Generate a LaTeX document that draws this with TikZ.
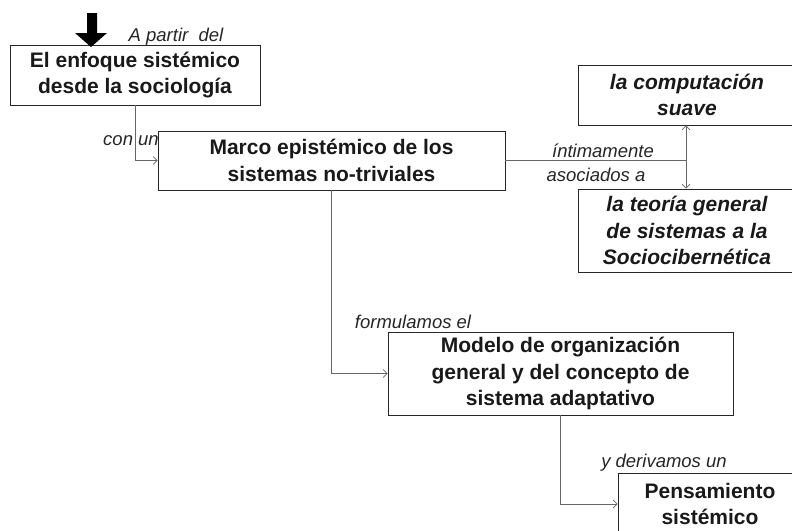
\documentclass[tikz,border=0pt]{standalone}
\usepackage{fontspec}
\setmainfont{Liberation Sans}
\usetikzlibrary{arrows.meta}
\begin{document}
\begin{tikzpicture}[x=1pt,y=-1pt,
  box/.style={draw=black!85,line width=0.9pt,inner sep=0pt,align=center,
    font=\bfseries\fontsize{21}{26.5}\selectfont,text=black!90},
  ibox/.style={box,font=\bfseries\itshape\fontsize{21}{26.5}\selectfont},
  lbl/.style={inner sep=0pt,font=\itshape\fontsize{18.5}{22}\selectfont,text=black!85},
  conn/.style={draw=black!60,line width=0.8pt},
  tipp/.style={-{Straight Barb[length=4pt,width=8pt,line width=0.7pt]}}]
\useasboundingbox (0,0) rectangle (792,530);
\clip (0,0) rectangle (792,530);
\fill[white] (0,0) rectangle (792,530);
% boxes
\node[box,minimum width=250pt,minimum height=60pt] (b1) at (135,75) {El enfoque sistémico\\desde la sociología};
\node[box,minimum width=347pt,minimum height=59pt] (b2) at (331.5,160.5) {Marco epistémico de los\\sistemas no-triviales};
\node[ibox,minimum width=218pt,minimum height=60pt] (b3) at (687,95) {la computación\\suave};
\node[ibox,minimum width=218pt,minimum height=83pt] (b4) at (687,230.5) {la teoría general\\de sistemas a la\\Sociocibernética};
\node[box,minimum width=345pt,minimum height=83pt] (b5) at (560.5,373.5) {Modelo de organización\\general y del concepto de\\sistema adaptativo};
\node[box,minimum width=184pt,minimum height=62pt] (b6) at (710,504) {Pensamiento\\sistémico};
% big arrow
\coordinate (tiptop) at (91,47);
\fill[black] (87,13) -- (97,13) -- (97,33) -- (107,33) -- (tiptop) -- (75,33) -- (87,33) -- cycle;
% connectors
\coordinate (j) at (686,160.5);
\draw[conn,tipp] (b1.south) |- (b2.west);
\draw[conn] (b2.east) -- (j);
\draw[conn,{Straight Barb[length=4pt,width=8pt,line width=0.7pt]}-{Straight Barb[length=4pt,width=8pt,line width=0.7pt]}] (b3.south -| j) -- (b4.north -| j);
\draw[conn,tipp] (b2.south) |- (b5.west);
\draw[conn,tipp] (b5.south) |- (b6.west);
% labels
\node[lbl] (l1) at (176,37) {A partir\ \ del};
\node[lbl] (l2) at (131,141) {con un};
\node[lbl] (l3) at (603,151) {íntimamente};
\node[lbl] (l4) at (596,175) {asociados a};
\node[lbl] (l5) at (413,322) {formulamos el};
\node[lbl] (l6) at (664,463) {y derivamos un};
\end{tikzpicture}
\end{document}
